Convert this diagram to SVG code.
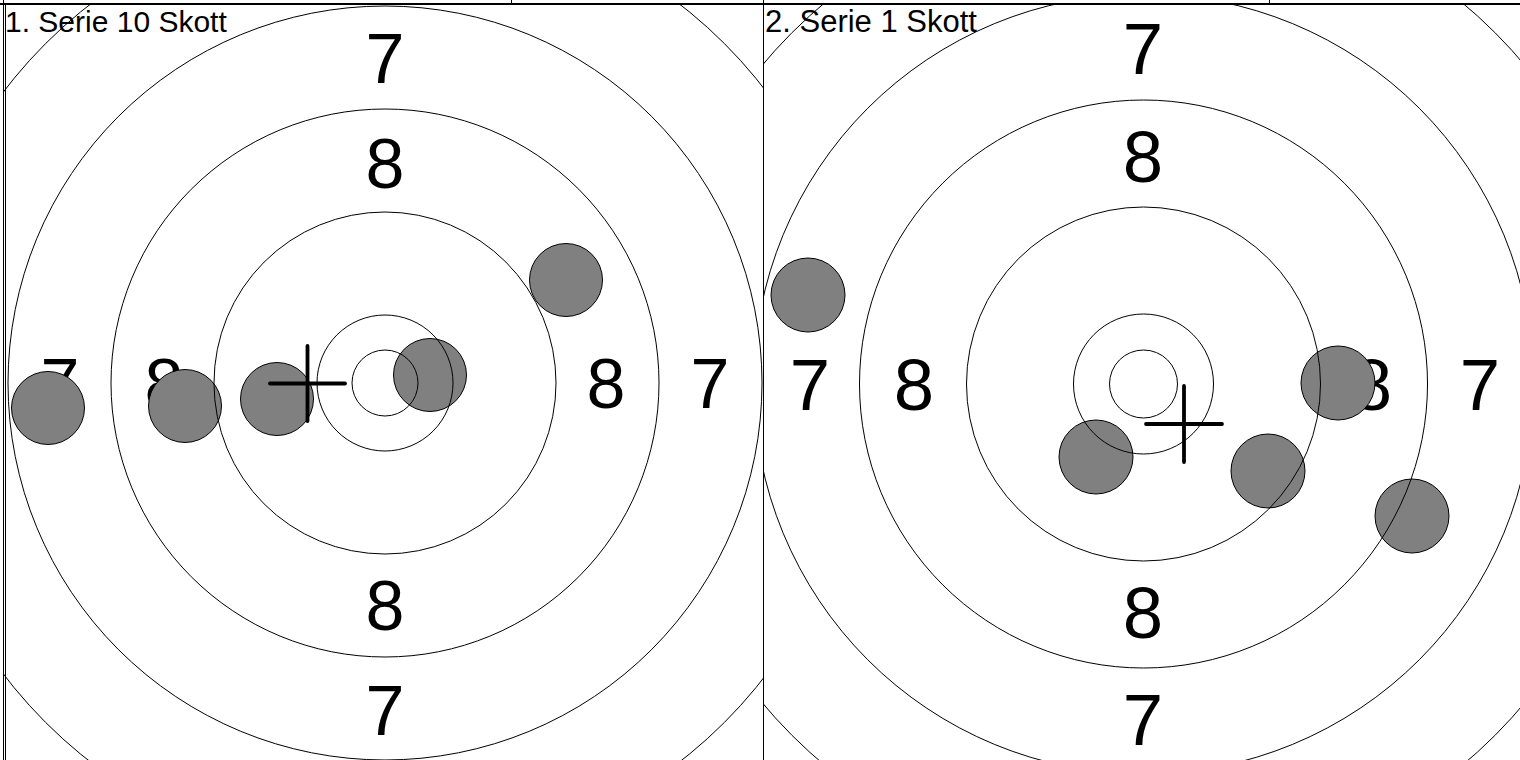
<svg xmlns="http://www.w3.org/2000/svg" width="1520" height="760" viewBox="0 0 1520 760">
<style>
.ring{fill:none;stroke:#000;stroke-width:1}
.shot{fill:#808080;stroke:#000;stroke-width:1}
.num{font-family:"Liberation Sans",Arial,sans-serif;fill:#000;text-anchor:middle}
.title{font-family:"Liberation Sans",Arial,sans-serif;fill:#000}
.cross{stroke:#000;stroke-width:3.8;stroke-linecap:round}
.frame{stroke:#000;stroke-width:1;fill:none}
</style>
<defs>
<clipPath id="clipL"><rect x="4" y="4" width="760" height="756"/></clipPath>
<clipPath id="clipR"><rect x="764" y="4" width="756" height="756"/></clipPath>
</defs>
<rect x="0" y="0" width="1520" height="760" fill="#fff"/>

<g id="panel1" clip-path="url(#clipL)">
  <g id="numbers1" class="num" font-size="70">
    <text x="385" y="83">7</text>
    <text x="385" y="188">8</text>
    <text x="385" y="630">8</text>
    <text x="385" y="735">7</text>
    <text x="60" y="408">7</text>
    <text x="164" y="408">8</text>
    <text x="606" y="408">8</text>
    <text x="710" y="408">7</text>
  </g>
  <g id="shots1">
    <circle class="shot" cx="48" cy="408" r="36.5"/>
    <circle class="shot" cx="185" cy="406" r="36.5"/>
    <circle class="shot" cx="277" cy="399" r="36.5"/>
    <circle class="shot" cx="430" cy="375" r="36.5"/>
    <circle class="shot" cx="566" cy="280" r="36.5"/>
  </g>
  <g id="rings1">
    <circle class="ring" cx="385" cy="383" r="33"/>
    <circle class="ring" cx="385" cy="383" r="68"/>
    <circle class="ring" cx="385" cy="383" r="171"/>
    <circle class="ring" cx="385" cy="383" r="274"/>
    <circle class="ring" cx="385" cy="383" r="377"/>
    <circle class="ring" cx="385" cy="383" r="480"/>
  </g>
  <g id="cross1">
    <line class="cross" x1="270" y1="383.5" x2="345" y2="383.5"/>
    <line class="cross" x1="307.5" y1="346" x2="307.5" y2="421"/>
  </g>
</g>
<text id="title1" class="title" x="5" y="32" font-size="30">1. Serie 10 Skott</text>

<g id="panel2" clip-path="url(#clipR)">
  <g id="numbers2" class="num" font-size="72.5">
    <text x="1143" y="74">7</text>
    <text x="1143" y="182">8</text>
    <text x="1143" y="638">8</text>
    <text x="1143" y="745">7</text>
    <text x="810" y="410">7</text>
    <text x="914" y="410">8</text>
    <text x="1372" y="410">8</text>
    <text x="1480" y="410">7</text>
  </g>
  <g id="shots2">
    <circle class="shot" cx="808" cy="295" r="37"/>
    <circle class="shot" cx="1096" cy="457" r="37"/>
    <circle class="shot" cx="1268" cy="471" r="37"/>
    <circle class="shot" cx="1338" cy="383" r="37"/>
    <circle class="shot" cx="1412" cy="516" r="37"/>
  </g>
  <g id="rings2">
    <circle class="ring" cx="1143.5" cy="384" r="34"/>
    <circle class="ring" cx="1143.5" cy="384" r="70"/>
    <circle class="ring" cx="1143.5" cy="384" r="177"/>
    <circle class="ring" cx="1143.5" cy="384" r="284"/>
    <circle class="ring" cx="1143.5" cy="384" r="390"/>
    <circle class="ring" cx="1143.5" cy="384" r="497"/>
  </g>
  <g id="cross2">
    <line class="cross" x1="1146" y1="424" x2="1222" y2="424"/>
    <line class="cross" x1="1184" y1="386" x2="1184" y2="462"/>
  </g>
</g>
<text id="title2" class="title" x="765" y="32" font-size="31">2. Serie 1 Skott</text>

<g id="frame">
  <line x1="0" y1="4" x2="1520" y2="4" stroke="#000" stroke-width="2"/>
  <line class="frame" x1="3.5" y1="0" x2="3.5" y2="760"/>
  <line class="frame" x1="5.5" y1="4" x2="5.5" y2="760"/>
  <line class="frame" x1="763.5" y1="0" x2="763.5" y2="760"/>
  <line class="frame" x1="511.5" y1="0" x2="511.5" y2="4"/>
  <line class="frame" x1="1269.5" y1="0" x2="1269.5" y2="4"/>
</g>
</svg>
